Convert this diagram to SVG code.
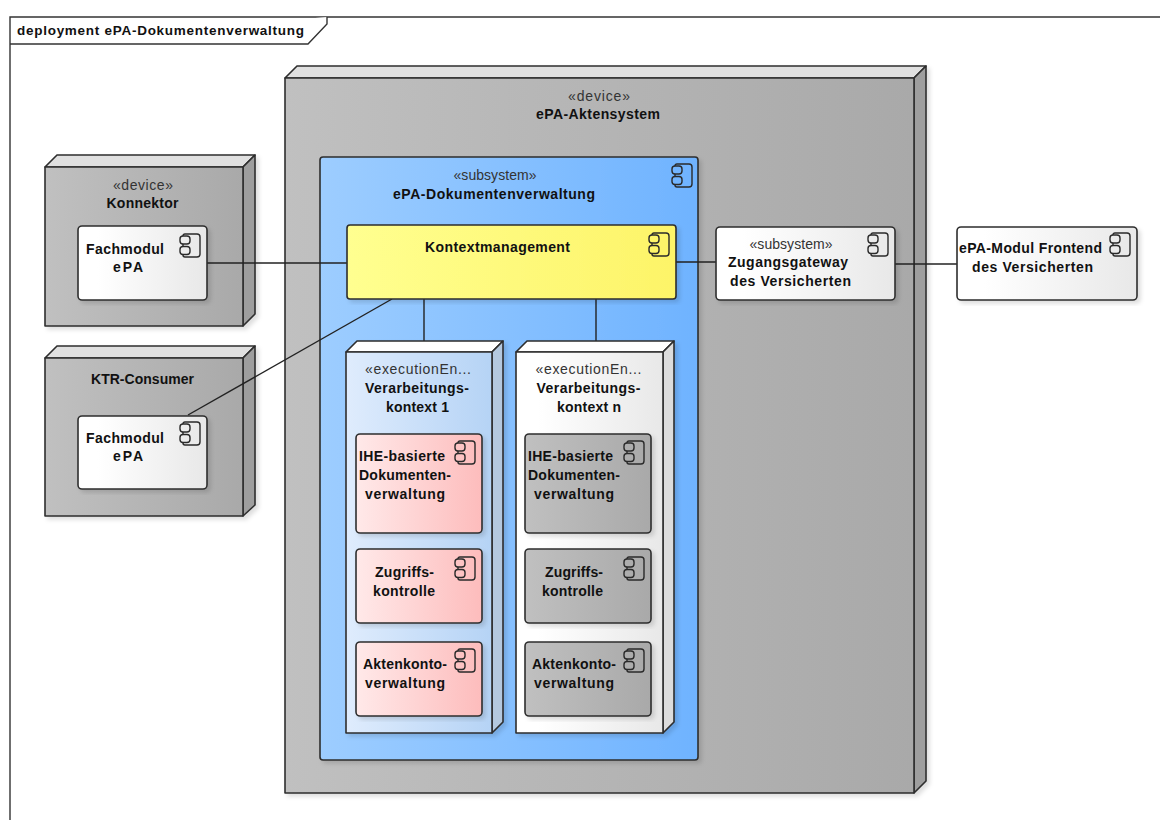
<svg xmlns="http://www.w3.org/2000/svg" width="1160" height="820" viewBox="0 0 1160 820">
<style>
text{font-family:"Liberation Sans",Arial,sans-serif;font-size:14px;fill:#111;text-anchor:middle}
.b{font-weight:bold}
.s{font-weight:normal;fill:#333}
.l{text-anchor:start}
.o{stroke:#2e2e2e;stroke-width:1.6;stroke-linejoin:round}
.c{stroke:#222;stroke-width:1.4;fill:none}
.top{fill:#e0e0e0}.side{fill:#9e9e9e}
.wtop{fill:#fff}.bside{fill:#b4c8de}.gside{fill:#dcdcdc}
.ic{fill:none;stroke:#2a2a2a;stroke-width:1.4}
</style>
<defs>
<linearGradient id="g"><stop offset="0" stop-color="#c0c0c0"/><stop offset="1" stop-color="#a9a9a9"/></linearGradient>
<linearGradient id="w"><stop offset="0.15" stop-color="#fff"/><stop offset="1" stop-color="#e8e8e8"/></linearGradient>
<linearGradient id="bl"><stop offset="0" stop-color="#9dcdff"/><stop offset="1" stop-color="#6fb3ff"/></linearGradient>
<linearGradient id="y"><stop offset="0" stop-color="#ffff90"/><stop offset="1" stop-color="#fdf468"/></linearGradient>
<linearGradient id="lb"><stop offset="0" stop-color="#dfecfd"/><stop offset="1" stop-color="#b5d3f5"/></linearGradient>
<linearGradient id="p"><stop offset="0" stop-color="#ffe9e9"/><stop offset="1" stop-color="#fdbcbc"/></linearGradient>
<filter id="sh" x="-5%" y="-5%" width="112%" height="112%"><feDropShadow dx="3" dy="3" stdDeviation="2" flood-color="#000" flood-opacity="0.13"/></filter>
<g id="ico">
<path class="ic" d="M-24 2Q-24 0 -22 0H-10Q-7 0 -7 3V20Q-7 23 -10 23H-22Q-24 23 -24 21M-24 10V12.5"/>
<rect class="ic" x="-27" y="2" width="10" height="8" rx="3"/>
<rect class="ic" x="-27" y="12.5" width="10" height="8" rx="3"/>
</g>
</defs>
<rect width="1160" height="820" fill="#fff"/>

<g id="frame">
<path d="M10 820V17H1160" fill="none" stroke="#333" stroke-width="1.4"/>
<path d="M10 44H308L327 24V17" fill="#fff" stroke="#333" stroke-width="1.4"/>
<text class="l b" x="17" y="35" textLength="287" style="font-size:13.5px">deployment ePA-Dokumentenverwaltung</text>
</g>

<g id="konnektor">
<g filter="url(#sh)">
<path class="o top" d="M45 167L57 155H255L243 167Z"/>
<path class="o side" d="M243 167L255 155V314L243 326Z"/>
<rect class="o" x="45" y="167" width="198" height="159" fill="url(#g)"/>
</g>
<text class="s" x="143" y="190" textLength="60">«device»</text>
<text class="b" x="142.5" y="208" textLength="72">Konnektor</text>
</g>

<g id="ktr-consumer">
<g filter="url(#sh)">
<path class="o top" d="M45 358L57 346H255L243 358Z"/>
<path class="o side" d="M243 358L255 346V505L243 516Z"/>
<rect class="o" x="45" y="358" width="198" height="158" fill="url(#g)"/>
</g>
<text class="b" x="142.5" y="384" textLength="103">KTR-Consumer</text>
</g>

<g id="epa-aktensystem">
<g filter="url(#sh)">
<path class="o top" d="M285 78L297 66H926L914 78Z"/>
<path class="o side" d="M914 78L926 66V781L914 793Z"/>
<rect class="o" x="285" y="78" width="629" height="715" fill="url(#g)"/>
</g>
<text class="s" x="599" y="101" textLength="62">«device»</text>
<text class="b" x="598" y="119" textLength="124">ePA-Aktensystem</text>
</g>

<g id="epa-dokumentenverwaltung">
<rect class="o" x="320" y="157" width="378" height="603" rx="3" fill="url(#bl)" filter="url(#sh)"/>
<use href="#ico" x="699" y="164"/>
<text class="s" x="495" y="180" textLength="83">«subsystem»</text>
<text class="b" x="494" y="199" textLength="202">ePA-Dokumentenverwaltung</text>
</g>

<g id="connectors">
<line class="c" x1="207" y1="263" x2="347" y2="263"/>
<line class="c" x1="188" y1="415" x2="392" y2="299"/>
<line class="c" x1="424" y1="299" x2="424" y2="341"/>
<line class="c" x1="596" y1="299" x2="596" y2="341"/>
<line class="c" x1="676" y1="262" x2="716" y2="262"/>
<line class="c" x1="895" y1="264" x2="957" y2="264"/>
</g>

<g id="fachmodul-1">
<rect class="o" x="78" y="226" width="129" height="74" rx="4" fill="url(#w)" filter="url(#sh)"/>
<use href="#ico" x="207" y="234"/>
<text class="b" x="125" y="254" textLength="78">Fachmodul</text>
<text class="b" x="128" y="272" textLength="30">ePA</text>
</g>

<g id="fachmodul-2">
<rect class="o" x="78" y="416" width="129" height="73" rx="4" fill="url(#w)" filter="url(#sh)"/>
<use href="#ico" x="207" y="422"/>
<text class="b" x="125" y="443" textLength="78">Fachmodul</text>
<text class="b" x="128" y="461" textLength="30">ePA</text>
</g>

<g id="kontextmanagement">
<rect class="o" x="347" y="225" width="329" height="74" rx="3" fill="url(#y)" filter="url(#sh)"/>
<use href="#ico" x="676" y="233"/>
<text class="b" x="497.5" y="252" textLength="145">Kontextmanagement</text>
</g>

<g id="zugangsgateway">
<rect class="o" x="716" y="227" width="179" height="73" rx="4" fill="url(#w)" filter="url(#sh)"/>
<use href="#ico" x="895" y="233"/>
<text class="s" x="791" y="249" textLength="83">«subsystem»</text>
<text class="b" x="788" y="267" textLength="120">Zugangsgateway</text>
<text class="b" x="790.5" y="286" textLength="121">des Versicherten</text>
</g>

<g id="epa-modul-frontend">
<rect class="o" x="957" y="227" width="180" height="73" rx="4" fill="url(#w)" filter="url(#sh)"/>
<use href="#ico" x="1137" y="233"/>
<text class="b" x="1030.5" y="253" textLength="143">ePA-Modul Frontend</text>
<text class="b" x="1032.5" y="272" textLength="121">des Versicherten</text>
</g>

<g id="verarbeitungskontext-1">
<g filter="url(#sh)">
<path class="o wtop" d="M346 352L357 341H503L492 352Z"/>
<path class="o bside" d="M492 352L503 341V722L492 733Z"/>
<rect class="o" x="346" y="352" width="146" height="381" fill="url(#lb)"/>
</g>
<text class="s" x="418" y="374" textLength="106">«executionEn...</text>
<text class="b" x="417" y="393" textLength="104">Verarbeitungs-</text>
<text class="b" x="417.5" y="412" textLength="63">kontext 1</text>
</g>

<g id="verarbeitungskontext-n">
<g filter="url(#sh)">
<path class="o wtop" d="M516 352L527 341H674L663 352Z"/>
<path class="o gside" d="M663 352L674 341V722L663 733Z"/>
<rect class="o" x="516" y="352" width="147" height="381" fill="url(#w)"/>
</g>
<text class="s" x="588.5" y="374" textLength="106">«executionEn...</text>
<text class="b" x="588.5" y="393" textLength="104">Verarbeitungs-</text>
<text class="b" x="589" y="412" textLength="64">kontext n</text>
</g>

<g id="ihe-1">
<rect class="o" x="356" y="434" width="126" height="99" rx="4" fill="url(#p)" filter="url(#sh)"/>
<use href="#ico" x="482" y="441"/>
<text class="b l" x="359" y="461" textLength="86">IHE-basierte</text>
<text class="b l" x="359" y="480" textLength="92">Dokumenten-</text>
<text class="b" x="405" y="499" textLength="80">verwaltung</text>
</g>
<g id="zugriff-1">
<rect class="o" x="356" y="549" width="126" height="74" rx="4" fill="url(#p)" filter="url(#sh)"/>
<use href="#ico" x="482" y="557"/>
<text class="b" x="404.5" y="577" textLength="59">Zugriffs-</text>
<text class="b" x="404" y="596" textLength="62">kontrolle</text>
</g>
<g id="akten-1">
<rect class="o" x="356" y="642" width="126" height="74" rx="4" fill="url(#p)" filter="url(#sh)"/>
<use href="#ico" x="482" y="649"/>
<text class="b" x="405" y="669" textLength="84">Aktenkonto-</text>
<text class="b" x="405" y="688" textLength="80">verwaltung</text>
</g>

<g id="ihe-n">
<rect class="o" x="525" y="434" width="126" height="99" rx="4" fill="url(#g)" filter="url(#sh)"/>
<use href="#ico" x="651" y="441"/>
<text class="b l" x="528" y="461" textLength="85">IHE-basierte</text>
<text class="b l" x="528" y="480" textLength="92">Dokumenten-</text>
<text class="b" x="574" y="499" textLength="80">verwaltung</text>
</g>
<g id="zugriff-n">
<rect class="o" x="525" y="549" width="126" height="74" rx="4" fill="url(#g)" filter="url(#sh)"/>
<use href="#ico" x="651" y="557"/>
<text class="b" x="574" y="577" textLength="58">Zugriffs-</text>
<text class="b" x="572.5" y="596" textLength="61">kontrolle</text>
</g>
<g id="akten-n">
<rect class="o" x="525" y="642" width="126" height="74" rx="4" fill="url(#g)" filter="url(#sh)"/>
<use href="#ico" x="651" y="649"/>
<text class="b" x="574" y="669" textLength="84">Aktenkonto-</text>
<text class="b" x="574" y="688" textLength="80">verwaltung</text>
</g>
</svg>
